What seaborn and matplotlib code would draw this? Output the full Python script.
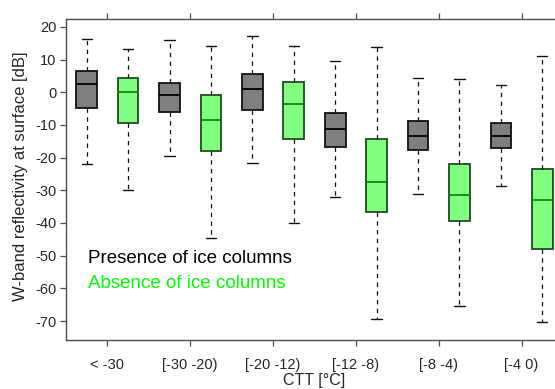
import numpy as np
import pandas as pd
import matplotlib
matplotlib.use("Agg")
import matplotlib.pyplot as plt
import seaborn as sns

categories = ["< -30", "[-30 -20)", "[-20 -12)", "[-12 -8)", "[-8 -4)", "[-4 0)"]
groups = ["Presence of ice columns", "Absence of ice columns"]

# five-number summaries per category: [whisker low, Q1, median, Q3, whisker high]
presence_stats = [
    [-22.0, -4.9, 2.6, 6.6, 16.2],
    [-19.5, -6.1, -0.9, 2.9, 15.9],
    [-21.8, -5.3, 1.1, 5.7, 17.3],
    [-32.2, -16.9, -11.3, -6.3, 9.7],
    [-31.1, -17.7, -13.4, -8.8, 4.5],
    [-28.7, -17.2, -13.4, -9.5, 2.1],
]
absence_stats = [
    [-30.0, -9.3, 0.2, 4.5, 13.1],
    [-44.5, -18.1, -8.5, -0.7, 14.0],
    [-40.1, -14.2, -3.6, 3.2, 14.0],
    [-69.5, -36.5, -27.6, -14.2, 13.7],
    [-65.5, -39.4, -31.4, -22.0, 4.0],
    [-70.4, -48.1, -33.1, -23.6, 11.0],
]

rows = []
for cat, ps, ab in zip(categories, presence_stats, absence_stats):
    for v in ps:
        rows.append((cat, groups[0], v))
    for v in ab:
        rows.append((cat, groups[1], v))
df = pd.DataFrame(rows, columns=["CTT", "group", "dBZ"])

sns.set_style("white")
plt.rcParams['font.family'] = ['Liberation Sans', 'DejaVu Sans']
plt.rcParams['axes.unicode_minus'] = False

W, H = 555, 389
fig = plt.figure(figsize=(W / 100, H / 100), dpi=100)
ax = fig.add_axes([66 / W, 1 - 340 / H, 497 / W, (340 - 18.7) / H])

palette = {groups[0]: "#7f7f7f", groups[1]: "#80ff80"}
edge = {groups[0]: "#111111", groups[1]: "#1d4d1d"}
med = {groups[0]: "#000000", groups[1]: "#0a8a0a"}

for g in groups:
    sub = df[df["group"] == g]
    sns.boxplot(data=sub, x="CTT", y="dBZ", hue="group", hue_order=groups,
                order=categories, palette=palette, saturation=1,
                width=1.0, gap=0.5, dodge=True, whis=(0, 100), showfliers=False,
                linecolor=edge[g], linewidth=1.3,
                medianprops=dict(color=med[g], linewidth=1.3),
                whiskerprops=dict(color="#111111", linestyle=(0, (3.5, 3.5)), linewidth=0.9),
                capprops=dict(color="#111111", linewidth=1.0),
                legend=False, ax=ax)

ax.set_xlim(-0.5, 5.5)
ax.set_ylim(-75.8, 22.5)
ax.set_yticks(np.arange(-70, 21, 10))
ax.set_xlabel("")
ax.set_ylabel("W-band reflectivity at surface [dB]", fontsize=12, color="#262626")
ax.yaxis.set_label_coords((28 - 66) / 497, (340 - 176) / (340 - 18.7))

for s in ["left", "bottom", "top"]:
    ax.spines[s].set_visible(True)
    ax.spines[s].set_color("#4d4d4d")
    ax.spines[s].set_linewidth(1.0)
ax.spines["right"].set_visible(False)

ax.tick_params(axis="x", which="both", direction="out", length=4, width=0.9, color="#4d4d4d",
               top=True, bottom=True, labelsize=10.5, labelcolor="#262626", pad=9)
ax.tick_params(axis="y", direction="out", length=4, width=0.9, color="#4d4d4d",
               left=True, labelsize=10.5, labelcolor="#262626", pad=3)

fig.text(314.5 / W, 1 - 381 / H, "CTT [°C]", ha="center", va="center", fontsize=11.5, color="#262626")

fig.text(88 / W, 1 - 263 / H, "Presence of ice columns", fontsize=13.5, color="black",
         va="baseline", ha="left")
fig.text(88 / W, 1 - 288 / H, "Absence of ice columns", fontsize=13.5, color="#00ff00",
         va="baseline", ha="left")

fig.savefig("out.png", dpi=100)
